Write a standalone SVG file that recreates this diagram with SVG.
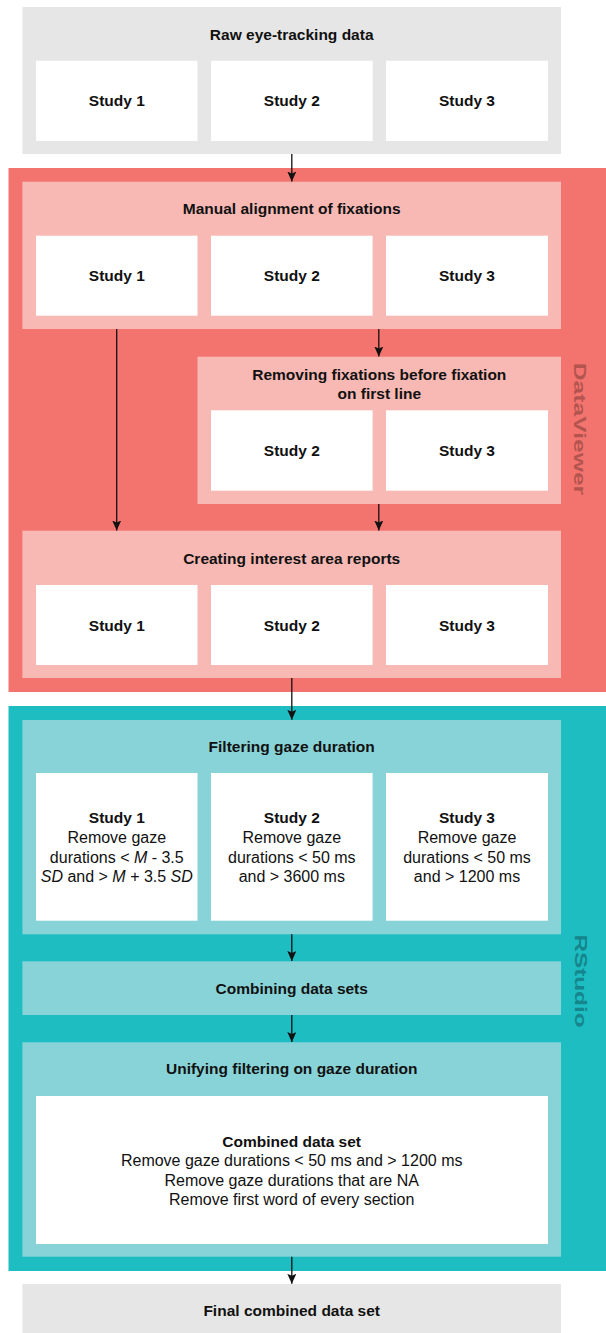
<svg xmlns="http://www.w3.org/2000/svg" width="606" height="1333" viewBox="0 0 606 1333">
<style>
.gray{fill:#e6e6e6}
.red{fill:#f3746e}
.pink{fill:#f8b9b5}
.teal{fill:#1dbdc2}
.lteal{fill:#88d3d8}
.white{fill:#ffffff}
text{font-family:"Liberation Sans",Arial,sans-serif;fill:#111;text-anchor:middle}
.b{font-weight:bold;font-size:15.5px}
.r{font-size:16px}
.side{font-weight:bold;font-size:17px;dominant-baseline:central}
.conn{stroke:#111;stroke-width:1.3;fill:none;marker-end:url(#ah)}
</style>
<defs>
<marker id="ah" markerUnits="userSpaceOnUse" markerWidth="10" markerHeight="9" refX="10" refY="4.5" orient="auto">
<path d="M0,0 L10,4.5 L0,9 L2,4.5 z" fill="#111"/>
</marker>
</defs>

<g id="dataviewer-panel">
<rect class="red" x="8.5" y="168" width="597.5" height="524"/>
<text class="side" style="fill:#b3544f" transform="translate(580,429) rotate(90) scale(1.45,1)">DataViewer</text>
</g>
<g id="rstudio-panel">
<rect class="teal" x="8.5" y="706" width="597.5" height="565"/>
<text class="side" style="fill:#15868c" transform="translate(581,981) rotate(90) scale(1.43,1)">RStudio</text>
</g>

<g id="raw">
<rect class="gray" x="22.4" y="7" width="538.6" height="147"/>
<text class="b" x="291.7" y="40">Raw eye-tracking data</text>
<rect class="white" x="36" y="60.7" width="161.5" height="80.3"/>
<rect class="white" x="211" y="60.7" width="161.6" height="80.3"/>
<rect class="white" x="386" y="60.7" width="162" height="80.3"/>
<text class="b" x="116.8" y="106">Study 1</text>
<text class="b" x="291.8" y="106">Study 2</text>
<text class="b" x="467" y="106">Study 3</text>
</g>

<g id="manual">
<rect class="pink" x="22.4" y="181.7" width="538.6" height="147.3"/>
<text class="b" x="291.7" y="214">Manual alignment of fixations</text>
<rect class="white" x="36" y="235.7" width="161.5" height="80"/>
<rect class="white" x="211" y="235.7" width="161.6" height="80"/>
<rect class="white" x="386" y="235.7" width="162" height="80"/>
<text class="b" x="116.8" y="281">Study 1</text>
<text class="b" x="291.8" y="281">Study 2</text>
<text class="b" x="467" y="281">Study 3</text>
</g>

<g id="removing">
<rect class="pink" x="197.5" y="356.7" width="363.5" height="147.3"/>
<text class="b" x="379.3" y="379.5">Removing fixations before fixation</text>
<text class="b" x="379.3" y="399">on first line</text>
<rect class="white" x="211" y="410.3" width="161.6" height="80.4"/>
<rect class="white" x="386" y="410.3" width="162" height="80.4"/>
<text class="b" x="291.8" y="456">Study 2</text>
<text class="b" x="467" y="456">Study 3</text>
</g>

<g id="creating">
<rect class="pink" x="22.4" y="530.7" width="538.6" height="147.3"/>
<text class="b" x="291.7" y="563.5">Creating interest area reports</text>
<rect class="white" x="36" y="585" width="161.5" height="80"/>
<rect class="white" x="211" y="585" width="161.6" height="80"/>
<rect class="white" x="386" y="585" width="162" height="80"/>
<text class="b" x="116.8" y="631">Study 1</text>
<text class="b" x="291.8" y="631">Study 2</text>
<text class="b" x="467" y="631">Study 3</text>
</g>

<g id="filtering">
<rect class="lteal" x="22.4" y="720" width="538.6" height="214.3"/>
<text class="b" x="291.7" y="751.5">Filtering gaze duration</text>
<rect class="white" x="36" y="773" width="161.5" height="147.7"/>
<rect class="white" x="211" y="773" width="161.6" height="147.7"/>
<rect class="white" x="386" y="773" width="162" height="147.7"/>
<text class="b" x="116.8" y="823">Study 1</text>
<text class="r" x="116.8" y="843">Remove gaze</text>
<text class="r" x="116.8" y="862.5">durations &lt; <tspan font-style="italic">M</tspan> - 3.5</text>
<text class="r" x="116.8" y="882"><tspan font-style="italic">SD</tspan> and &gt; <tspan font-style="italic">M</tspan> + 3.5 <tspan font-style="italic">SD</tspan></text>
<text class="b" x="291.8" y="823">Study 2</text>
<text class="r" x="291.8" y="843">Remove gaze</text>
<text class="r" x="291.8" y="862.5">durations &lt; 50 ms</text>
<text class="r" x="291.8" y="882">and &gt; 3600 ms</text>
<text class="b" x="467" y="823">Study 3</text>
<text class="r" x="467" y="843">Remove gaze</text>
<text class="r" x="467" y="862.5">durations &lt; 50 ms</text>
<text class="r" x="467" y="882">and &gt; 1200 ms</text>
</g>

<g id="combining">
<rect class="lteal" x="22.4" y="961.3" width="538.6" height="53.7"/>
<text class="b" x="291.7" y="994">Combining data sets</text>
</g>

<g id="unifying">
<rect class="lteal" x="22.4" y="1042.3" width="538.6" height="214.4"/>
<text class="b" x="291.7" y="1074">Unifying filtering on gaze duration</text>
<rect class="white" x="36" y="1096" width="512" height="148"/>
<text class="b" x="291.7" y="1146.5">Combined data set</text>
<text class="r" x="291.7" y="1166">Remove gaze durations &lt; 50 ms and &gt; 1200 ms</text>
<text class="r" x="291.7" y="1185.5">Remove gaze durations that are NA</text>
<text class="r" x="291.7" y="1205">Remove first word of every section</text>
</g>

<g id="final">
<rect class="gray" x="22.4" y="1284" width="538.6" height="49"/>
<text class="b" x="291.7" y="1316">Final combined data set</text>
</g>

<g id="connectors">
<line class="conn" x1="291.8" y1="154" x2="291.8" y2="181.5"/>
<line class="conn" x1="116.7" y1="329" x2="116.7" y2="530.5"/>
<line class="conn" x1="378.8" y1="329" x2="378.8" y2="356.5"/>
<line class="conn" x1="378.8" y1="504" x2="378.8" y2="530.5"/>
<line class="conn" x1="291.8" y1="678" x2="291.8" y2="719.8"/>
<line class="conn" x1="291.8" y1="934.3" x2="291.8" y2="961.1"/>
<line class="conn" x1="291.8" y1="1015" x2="291.8" y2="1042.1"/>
<line class="conn" x1="291.8" y1="1256.7" x2="291.8" y2="1283.8"/>
</g>
</svg>
